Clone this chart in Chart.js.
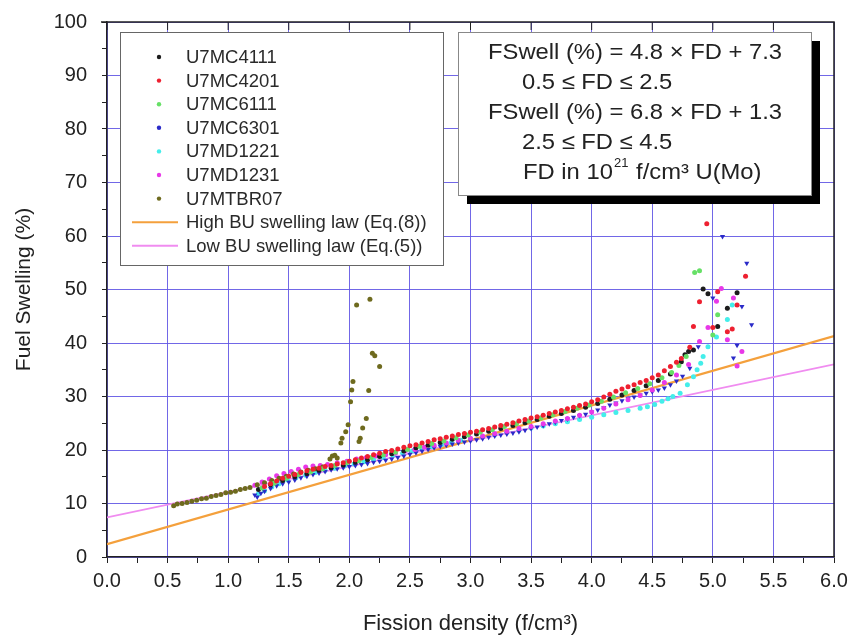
<!DOCTYPE html>
<html><head><meta charset="utf-8">
<script src="https://cdn.jsdelivr.net/npm/chart.js@4/dist/chart.umd.min.js"></script>
<style>html,body{margin:0;padding:0;background:#fff;overflow:hidden}canvas{display:block}</style>
</head><body>
<canvas id="c" width="851" height="642"></canvas>
<script>
// ---------- DATA ----------
const seriesNames = ['U7MC4111','U7MC4201','U7MC6111','U7MC6301','U7MD1221','U7MD1231','U7MTBR07'];
const seriesColors = ['#1c1c1c','#ee2030','#66e066','#2a2ac8','#44eeea','#e838e8','#6e6a1e'];

const U7MC4111 = [[1.25,12.6],[1.35,13.5],[1.45,14.3],[1.55,15.0],[1.65,15.6],[1.75,16.2],[1.85,16.7],[1.95,17.2],[2.05,17.7],[2.15,18.2],[2.25,18.8],[2.35,19.3],[2.45,19.8],[2.55,20.4],[2.65,20.9],[2.75,21.4],[2.85,22.0],[2.95,22.5],[3.05,23.0],[3.15,23.5],[3.25,24.0],[3.35,24.6],[3.45,25.1],[3.55,25.7],[3.65,26.3],[3.75,26.8],[3.85,27.4],[3.95,28.0],[4.05,28.7],[4.15,29.5],[4.25,30.3],[4.35,31.1],[4.45,32.0],[4.55,33.0],[4.65,34.2],[4.74,36.5],[4.77,37.8],[4.80,38.4],[4.84,38.7],[4.92,50.1],[4.96,49.2],[5.04,43.1],[5.12,46.5],[5.20,49.4]];

const U7MC4201 = [[1.30,13.2],[1.35,13.7],[1.40,14.2],[1.45,14.7],[1.50,15.1],[1.55,15.4],[1.60,15.8],[1.65,16.1],[1.70,16.4],[1.75,16.6],[1.80,16.9],[1.85,17.1],[1.90,17.4],[1.95,17.6],[2.00,17.9],[2.05,18.2],[2.10,18.5],[2.15,18.8],[2.20,19.1],[2.25,19.4],[2.30,19.7],[2.35,19.9],[2.40,20.2],[2.45,20.5],[2.50,20.8],[2.55,21.0],[2.60,21.3],[2.65,21.6],[2.70,21.9],[2.75,22.1],[2.80,22.4],[2.85,22.6],[2.90,22.9],[2.95,23.1],[3.00,23.3],[3.05,23.5],[3.10,23.8],[3.15,24.0],[3.20,24.3],[3.25,24.6],[3.30,24.8],[3.35,25.1],[3.40,25.4],[3.45,25.7],[3.50,26.0],[3.55,26.2],[3.60,26.5],[3.65,26.8],[3.70,27.1],[3.75,27.4],[3.80,27.7],[3.85,28.0],[3.90,28.3],[3.95,28.6],[4.00,29.0],[4.05,29.4],[4.10,29.9],[4.15,30.4],[4.20,31.0],[4.25,31.4],[4.30,31.8],[4.35,32.2],[4.40,32.6],[4.45,33.0],[4.50,33.5],[4.55,34.0],[4.60,34.8],[4.65,35.6],[4.70,36.4],[4.74,37.1],[4.81,39.2],[4.84,43.1],[4.89,47.7],[4.95,62.3],[5.00,42.9],[5.04,49.6],[5.12,42.1],[5.16,42.6],[5.20,47.1],[5.27,52.5]];

const U7MC6111 = [[1.28,12.9],[1.38,13.8],[1.48,14.7],[1.58,15.4],[1.68,15.9],[1.78,16.5],[1.88,17.1],[1.98,17.6],[2.08,18.0],[2.18,18.6],[2.28,19.1],[2.38,19.6],[2.48,20.1],[2.58,20.7],[2.68,21.2],[2.78,21.7],[2.88,22.3],[2.98,22.8],[3.08,23.3],[3.18,23.8],[3.28,24.4],[3.38,24.9],[3.48,25.4],[3.58,26.0],[3.68,26.6],[3.78,27.2],[3.88,27.8],[3.98,28.4],[4.08,29.1],[4.18,29.9],[4.28,30.7],[4.38,31.5],[4.48,32.4],[4.58,33.5],[4.66,34.5],[4.72,35.8],[4.78,37.5],[4.85,53.2],[4.89,53.5],[5.00,41.5],[5.04,45.3]];

const U7MC6301 = [[1.22,11.6],[1.24,11.2],[1.27,11.9],[1.30,12.3],[1.35,12.8],[1.40,13.3],[1.45,13.7],[1.50,14.0],[1.55,14.4],[1.60,14.8],[1.65,15.1],[1.70,15.4],[1.75,15.7],[1.80,16.0],[1.85,16.3],[1.90,16.5],[1.95,16.7],[2.00,16.9],[2.05,17.1],[2.10,17.3],[2.15,17.5],[2.20,17.7],[2.25,17.9],[2.30,18.1],[2.35,18.3],[2.40,18.6],[2.45,18.9],[2.50,19.2],[2.55,19.5],[2.60,19.8],[2.65,20.1],[2.70,20.4],[2.75,20.7],[2.80,20.9],[2.85,21.1],[2.90,21.3],[2.95,21.5],[3.00,21.7],[3.05,21.9],[3.10,22.1],[3.15,22.4],[3.20,22.6],[3.25,22.8],[3.30,23.0],[3.35,23.2],[3.40,23.4],[3.45,23.7],[3.50,24.0],[3.55,24.3],[3.60,24.6],[3.65,24.9],[3.70,25.2],[3.75,25.5],[3.80,25.8],[3.85,26.1],[3.90,26.4],[3.95,26.7],[4.00,27.1],[4.05,27.5],[4.10,27.9],[4.15,28.4],[4.20,28.8],[4.25,29.2],[4.30,29.6],[4.35,29.9],[4.40,30.3],[4.45,30.6],[4.50,30.9],[4.55,31.2],[4.60,31.6],[4.65,32.2],[4.70,32.9],[4.75,33.8],[4.81,35.3],[4.88,39.3],[5.00,48.4],[5.08,59.9],[5.17,37.2],[5.20,39.6],[5.24,46.8],[5.28,54.9],[5.32,43.4]];

const U7MD1221 = [[1.25,11.8],[1.30,12.4],[1.36,13.1],[1.42,13.7],[1.49,14.4],[1.56,14.8],[1.64,15.3],[1.72,15.8],[1.80,16.2],[1.88,16.6],[1.96,17.0],[2.04,17.4],[2.12,17.8],[2.20,18.2],[2.28,18.6],[2.36,19.0],[2.44,19.4],[2.52,19.8],[2.60,20.2],[2.68,20.6],[2.76,21.0],[2.84,21.4],[2.92,21.8],[3.00,22.1],[3.10,22.5],[3.20,22.9],[3.30,23.3],[3.40,23.7],[3.50,24.1],[3.60,24.5],[3.70,24.9],[3.80,25.3],[3.90,25.7],[4.00,26.1],[4.10,26.6],[4.20,27.0],[4.30,27.4],[4.40,27.8],[4.46,28.1],[4.52,28.5],[4.58,29.1],[4.63,29.6],[4.67,30.0],[4.73,30.6],[4.79,32.2],[4.84,33.7],[4.87,35.0],[4.90,36.2],[4.92,37.5],[4.96,39.3],[5.03,41.1],[5.12,44.4],[5.16,47.1]];

const U7MD1231 = [[1.22,13.4],[1.28,14.0],[1.34,14.6],[1.40,15.2],[1.46,15.6],[1.52,16.0],[1.58,16.4],[1.64,16.8],[1.70,17.0],[1.76,17.1],[1.82,17.3],[1.90,17.6],[1.98,17.9],[2.06,18.3],[2.14,18.6],[2.22,18.9],[2.30,19.1],[2.38,19.4],[2.46,19.8],[2.54,20.1],[2.62,20.5],[2.70,20.9],[2.80,21.3],[2.90,21.8],[3.00,22.2],[3.10,22.6],[3.20,23.1],[3.30,23.5],[3.40,24.0],[3.50,24.4],[3.60,24.9],[3.70,25.4],[3.80,25.9],[3.90,26.5],[4.00,27.1],[4.10,27.8],[4.20,28.6],[4.30,29.4],[4.40,30.2],[4.50,31.2],[4.60,32.6],[4.70,34.0],[4.80,36.0],[4.89,40.3],[4.96,42.9],[5.03,47.8],[5.07,50.2],[5.12,40.6],[5.17,48.4],[5.20,35.7],[5.24,38.4]];

const U7MTBR07 = [[0.55,9.6],[0.58,9.9],[0.62,10.0],[0.66,10.2],[0.70,10.4],[0.74,10.6],[0.78,10.9],[0.82,11.0],[0.86,11.3],[0.90,11.5],[0.94,11.7],[0.98,12.0],[1.02,12.1],[1.06,12.3],[1.10,12.6],[1.14,12.8],[1.18,13.0],[1.24,13.5],[1.30,13.9],[1.36,14.3],[1.42,14.7],[1.48,15.1],[1.54,15.5],[1.60,15.9],[1.66,16.2],[1.72,16.5],[1.78,16.8],[1.84,18.3],[1.86,18.9],[1.88,19.0],[1.90,18.5],[1.93,21.3],[1.94,22.2],[1.97,23.4],[1.99,24.7],[2.01,29.0],[2.02,31.2],[2.03,32.8],[2.06,47.1],[2.08,21.6],[2.09,22.2],[2.11,24.1],[2.14,25.9],[2.16,31.1],[2.17,48.2],[2.19,38.1],[2.21,37.6],[2.25,35.6]];

const seriesData = [U7MC4111, U7MC4201, U7MC6111, U7MC6301, U7MD1221, U7MD1231, U7MTBR07];
const seriesOrder = [3, 1, 2, 5, 6, 4, 3];

const lawNames = ['High BU swelling law (Eq.(8))', 'Low BU swelling law (Eq.(5))'];
const lawColors = ['#f4a03c', '#f08cf0'];
const highBU = [[0, 2.4], [6, 41.3]];
const lowBU  = [[0, 7.4], [6, 36.0]];

const xTickLabels = ['0.0','0.5','1.0','1.5','2.0','2.5','3.0','3.5','4.0','4.5','5.0','5.5','6.0'];
const yTickLabels = ['0','10','20','30','40','50','60','70','80','90','100'];
const xTitle = 'Fission density (f/cm³)';
const yTitle = 'Fuel Swelling (%)';

const eqLines = [
  {t: 'FSwell (%) = 4.8 × FD + 7.3', x: 488},
  {t: '0.5 ≤ FD ≤ 2.5', x: 522},
  {t: 'FSwell (%) = 6.8 × FD + 1.3', x: 488},
  {t: '2.5 ≤ FD ≤ 4.5', x: 522},
  {t: 'FD in 10|21| f/cm³ U(Mo)', x: 523}
];

// ---------- CHART ----------
const FONT = '"Liberation Sans", Arial, sans-serif';
const GRID = 'rgba(98,86,228,0.9)';
const toXY = a => a.map(p => ({x: p[0], y: p[1]}));

const datasets = seriesNames.map((n, i) => ({
  label: n,
  data: toXY(seriesData[i]),
  backgroundColor: seriesColors[i],
  borderColor: seriesColors[i],
  pointRadius: i === 3 ? 3.0 : 2.5,
  pointStyle: i === 3 ? 'triangle' : 'circle',
  rotation: i === 3 ? 180 : 0,
  borderWidth: 0,
  showLine: false,
  order: seriesOrder[i]
}));
[highBU, lowBU].forEach((d, i) => datasets.push({
  label: lawNames[i],
  data: toXY(d),
  showLine: true,
  borderColor: lawColors[i],
  backgroundColor: lawColors[i],
  borderWidth: i === 0 ? 2.4 : 1.6,
  pointRadius: 0,
  order: 10
}));

const decor = {
  id: 'decor',
  beforeDraw(c) {
    const g = c.ctx; g.save(); g.fillStyle = '#fff'; g.fillRect(0, 0, c.width, c.height); g.restore();
  },
  afterDraw(c) {
    const g = c.ctx, a = c.chartArea, xs = c.scales.x;
    g.save();
    // frame top & right
    g.strokeStyle = '#222'; g.lineWidth = 1.5;
    g.beginPath(); g.moveTo(a.left - 6, a.top); g.lineTo(a.right, a.top); g.lineTo(a.right, a.bottom); g.stroke();
    g.lineWidth = 1;
    xTickLabels.forEach((l) => {
      const px = xs.getPixelForValue(parseFloat(l));
      g.beginPath(); g.moveTo(px, a.top); g.lineTo(px, a.top + 8); g.stroke();
    });
    // legend box
    const L = {x: 120, y: 32, w: 323, h: 233};
    g.fillStyle = '#fff'; g.fillRect(L.x, L.y, L.w, L.h);
    g.strokeStyle = '#666'; g.lineWidth = 1; g.strokeRect(L.x + 0.5, L.y + 0.5, L.w, L.h);
    g.font = '18.5px ' + FONT; g.textBaseline = 'middle'; g.textAlign = 'left';
    const rowY0 = 57, dy = 23.6;
    c.data.datasets.forEach((ds, i) => {
      const y = rowY0 + i * dy;
      if (ds.showLine) {
        g.strokeStyle = ds.borderColor; g.lineWidth = 2;
        g.beginPath(); g.moveTo(132, y); g.lineTo(178, y); g.stroke();
      } else {
        g.fillStyle = ds.backgroundColor;
        g.beginPath(); g.arc(159, y, 2.2, 0, Math.PI * 2); g.fill();
      }
      g.fillStyle = '#2a2a2a';
      g.fillText(ds.label, 186, y + 1);
    });
    // equation box with shadow
    const E = {x: 458, y: 32, w: 353, h: 163};
    g.fillStyle = '#000'; g.fillRect(E.x + 9, E.y + 9, E.w, E.h);
    g.fillStyle = '#fff'; g.fillRect(E.x, E.y, E.w, E.h);
    g.strokeStyle = '#888'; g.lineWidth = 1; g.strokeRect(E.x + 0.5, E.y + 0.5, E.w, E.h);
    g.fillStyle = '#222'; g.textBaseline = 'middle';
    const big = '22px ' + FONT, small = '12px ' + FONT;
    g.font = big;
    const sx = 294 / g.measureText(eqLines[0].t).width;
    eqLines.forEach((ln, i) => {
      const y = 53 + i * 30;
      const parts = ln.t.split('|');
      g.save();
      g.translate(ln.x, y);
      g.scale(sx, 1);
      let x = 0;
      parts.forEach((p, k) => {
        if (k % 2 === 1) { g.font = small; g.fillText(p, x + 1, -9); x += g.measureText(p).width + 2; }
        else { g.font = big; g.fillText(p, x, 0); x += g.measureText(p).width; }
      });
      g.restore();
    });
    g.restore();
  }
};

new Chart(document.getElementById('c'), {
  type: 'scatter',
  data: {datasets},
  plugins: [decor],
  options: {
    responsive: false,
    animation: false,
    devicePixelRatio: 1,
    layout: {padding: {left: 0, top: 22, right: 17, bottom: 0}},
    plugins: {legend: {display: false}, tooltip: {enabled: false}},
    scales: {
      x: {
        type: 'linear', min: 0, max: 6,
        afterFit: s => { s.height = 85; s.paddingRight = 0; s.paddingLeft = 0; },
        ticks: {
          stepSize: 0.25, autoSkip: false, maxRotation: 0, padding: 6,
          font: {family: FONT, size: 20}, color: '#222',
          callback: v => (Math.abs(v * 2 - Math.round(v * 2)) < 1e-6) ? xTickLabels[Math.round(v * 2)] : ''
        },
        grid: {
          color: ctx => (ctx.tick && Math.abs(ctx.tick.value * 2 - Math.round(ctx.tick.value * 2)) < 1e-6) ? GRID : 'rgba(0,0,0,0)',
          tickColor: '#222', tickLength: 6, lineWidth: 1
        },
        border: {color: '#222', width: 1.5},
        title: {display: true, text: xTitle, font: {family: FONT, size: 22}, color: '#222', padding: {top: 0, bottom: 5}}
      },
      y: {
        type: 'linear', min: 0, max: 100,
        afterFit: s => { s.width = 107; s.paddingTop = 0; s.paddingBottom = 0; },
        ticks: {
          stepSize: 5, autoSkip: false, padding: 15,
          font: {family: FONT, size: 20}, color: '#222',
          callback: v => (v % 10 === 0) ? yTickLabels[v / 10] : ''
        },
        grid: {
          color: ctx => (ctx.tick && ctx.tick.value % 10 === 0) ? GRID : 'rgba(0,0,0,0)',
          tickColor: '#222', tickLength: 5, lineWidth: 1
        },
        border: {color: '#222', width: 1.5},
        title: {display: true, text: yTitle, font: {family: FONT, size: 21}, color: '#222', padding: {top: 12, bottom: 0}}
      }
    }
  }
});
</script>
</body></html>
